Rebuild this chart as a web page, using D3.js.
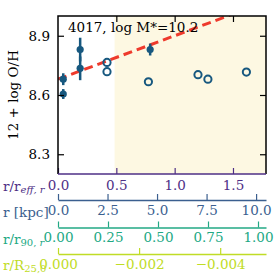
<!DOCTYPE html>
<html lang="en">
<head>
<meta charset="UTF-8">
<title>4017 metallicity profile</title>
<script src="https://d3js.org/d3.v7.min.js"></script>
<style>
  body { margin: 0; background: #fff; }
  svg text { font-family: "DejaVu Serif", serif; }
</style>
</head>
<body>
<svg width="277" height="277"></svg>
<script>
// data (r / r_eff,r and 12 + log O/H)
const filledR = [0.045, 0.045, 0.19, 0.19, 0.79];
const filledOH = [8.68, 8.605, 8.83, 8.735, 8.83];
const filledErr = [0.03, 0.025, 0.06, 0.06, 0.03];
const openR = [0.42, 0.42, 0.775, 1.20, 1.285, 1.615];
const openOH = [8.765, 8.718, 8.667, 8.703, 8.68, 8.716];
const fitR = [0, 1.78];
const fitOH = [8.68, 8.68 + 0.22 * 1.78];
const yTicks = [8.3, 8.6, 8.9];
const effTicks = [0, 0.5, 1.0, 1.5];
const kpcTicks = [0, 2.5, 5.0, 7.5, 10.0];
const r90Ticks = [0, 0.25, 0.5, 0.75, 1.0];
const r25Ticks = [0, -0.002, -0.004];

const pL = 58, pR = 266, pT = 16, pB = 174;
const svg = d3.select("svg");

const x = d3.scaleLinear().domain([0, 1.783]).range([pL, pR]);
const y = d3.scaleLinear().domain([8.2, 9.0]).range([pB, pT]);
const xKpc = d3.scaleLinear().domain([0, 10.5]).range([pL, pR]);
const x90 = d3.scaleLinear().domain([0, 1.04]).range([pL, pR]);
const x25 = d3.scaleLinear().domain([0, -0.00513]).range([pL, pR]);

const cPurple = "#4e2f86", cBlue = "#3b5f8f", cGreen = "#22a884", cYellow = "#c0dc26";
const cMark = "#17587f";

// shaded region
svg.append("rect")
  .attr("x", x(0.485)).attr("y", pT)
  .attr("width", pR - x(0.485)).attr("height", pB - pT)
  .attr("fill", "#fdf8e2");

svg.append("clipPath").attr("id", "clip")
  .append("rect").attr("x", pL).attr("y", pT)
  .attr("width", pR - pL).attr("height", pB - pT);

// fit line
svg.append("line")
  .attr("clip-path", "url(#clip)")
  .attr("x1", x(fitR[0])).attr("y1", y(fitOH[0]))
  .attr("x2", x(fitR[1])).attr("y2", y(fitOH[1]))
  .attr("stroke", "#ee3a2c").attr("stroke-width", 3)
  .attr("stroke-dasharray", "9,5");

// error bars + filled points
filledR.forEach((r, i) => {
  svg.append("line")
    .attr("x1", x(r)).attr("x2", x(r))
    .attr("y1", y(filledOH[i] - filledErr[i])).attr("y2", y(filledOH[i] + filledErr[i]))
    .attr("stroke", cMark).attr("stroke-width", 2.5);
  svg.append("circle")
    .attr("cx", x(r)).attr("cy", y(filledOH[i])).attr("r", 3.6)
    .attr("fill", cMark);
});

// open points
openR.forEach((r, i) => {
  svg.append("circle")
    .attr("cx", x(r)).attr("cy", y(openOH[i])).attr("r", 3.6)
    .attr("fill", "none").attr("stroke", cMark).attr("stroke-width", 2);
});

// left axis
const yAx = svg.append("g").attr("transform", `translate(${pL},0)`)
  .call(d3.axisLeft(y).tickValues(yTicks).tickFormat(d3.format(".1f"))
    .tickSizeInner(-6).tickSizeOuter(0).tickPadding(8));
yAx.select(".domain").remove();
yAx.selectAll("line").attr("stroke", "#000").attr("stroke-width", 1.2);
yAx.selectAll("text").attr("font-size", 13.5).attr("fill", "#000");

// right axis ticks
const yR = svg.append("g").attr("transform", `translate(${pR},0)`)
  .call(d3.axisRight(y).tickValues(yTicks).tickSizeInner(-6).tickSizeOuter(0).tickFormat(""));
yR.select(".domain").remove();
yR.selectAll("line").attr("stroke", "#000").attr("stroke-width", 1.2);

// top axis ticks
const xT = svg.append("g").attr("transform", `translate(0,${pT})`)
  .call(d3.axisTop(x).tickValues(effTicks.slice(1)).tickSizeInner(-6).tickSizeOuter(0).tickFormat(""));
xT.select(".domain").remove();
xT.selectAll("line").attr("stroke", "#000").attr("stroke-width", 1.2);

// main bottom axis r/r_eff
const xB = svg.append("g").attr("transform", `translate(0,${pB})`)
  .call(d3.axisBottom(x).tickValues(effTicks).tickFormat(d3.format(".1f"))
    .tickSizeInner(-6).tickSizeOuter(0).tickPadding(6));
xB.select(".domain").remove();
xB.selectAll("line").attr("stroke", cPurple).attr("stroke-width", 1.2);
xB.selectAll("text").attr("font-size", 13.5).attr("fill", cPurple);

// frame
svg.append("path")
  .attr("d", `M${pL},${pB}V${pT}H${pR}V${pB}`)
  .attr("fill", "none").attr("stroke", "#000").attr("stroke-width", 1.5);
svg.append("line")
  .attr("x1", pL).attr("x2", pR).attr("y1", pB).attr("y2", pB)
  .attr("stroke", cPurple).attr("stroke-width", 1.5);

// secondary axes
function secondAxis(scale, ticks, fmt, yPos, color) {
  const g = svg.append("g").attr("transform", `translate(0,${yPos})`)
    .call(d3.axisBottom(scale).tickValues(ticks).tickFormat(fmt)
      .tickSizeInner(-6).tickSizeOuter(0).tickPadding(5));
  g.select(".domain").attr("stroke", color).attr("stroke-width", 1.5);
  g.selectAll("line").attr("stroke", color).attr("stroke-width", 1.2);
  g.selectAll("text").attr("font-size", 13.5).attr("fill", color);
}
secondAxis(xKpc, kpcTicks, d3.format(".1f"), 200, cBlue);
secondAxis(x90, r90Ticks, d3.format(".2f"), 227.5, cGreen);
secondAxis(x25, r25Ticks, d => d3.format(".3f")(d).replace("-", "\u2212"), 254, cYellow);

// axis names
const names = svg.append("g").attr("font-size", 13.5);
const n1 = names.append("text").attr("x", 3).attr("y", 191).attr("fill", cPurple);
n1.append("tspan").text("r/r");
n1.append("tspan").attr("font-size", 10).attr("font-style", "italic").attr("dy", 2).text("eff, r");
names.append("text").attr("x", 3).attr("y", 217).attr("fill", cBlue).text("r [kpc]");
const n3 = names.append("text").attr("x", 3).attr("y", 244).attr("fill", cGreen);
n3.append("tspan").text("r/r");
n3.append("tspan").attr("font-size", 10).attr("dy", 2).text("90,");
n3.append("tspan").attr("font-size", 10).attr("font-style", "italic").text(" r");
const n4 = names.append("text").attr("x", 3).attr("y", 270).attr("fill", cYellow);
n4.append("tspan").text("r/R");
n4.append("tspan").attr("font-size", 10).attr("dy", 2).text("25,0");

// y label
svg.append("text")
  .attr("transform", `translate(18,${(pT + pB) / 2}) rotate(-90)`)
  .attr("text-anchor", "middle").attr("font-size", 13.5)
  .text("12 + log O/H");

// title
svg.append("text").attr("x", 68).attr("y", 32).attr("font-size", 13.5)
  .text("4017, log M*=10.2");
</script>
</body>
</html>
